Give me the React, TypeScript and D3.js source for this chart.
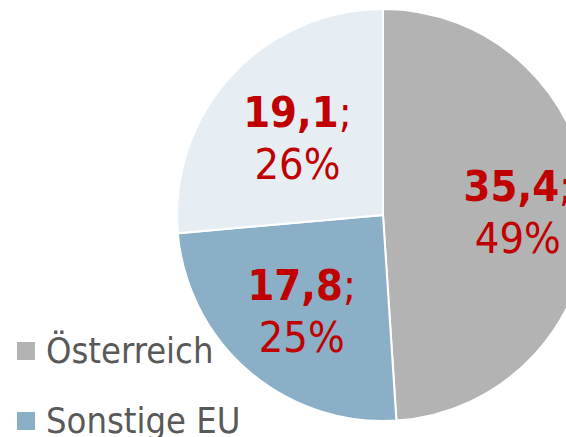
import React from "react";
import * as d3 from "d3";

const categories = ["Österreich", "Sonstige EU", "Drittstaaten"];
const values = [35.4, 17.8, 19.1];
const percents = ["49%", "25%", "26%"];
const legendItems = ["Österreich", "Sonstige EU"];

const colors = ["#b3b3b3", "#8aafc6", "#e6eef4"];
const labelFrac = [0.655, 0.607, 0.563];

const W = 566;
const H = 437;
const cx = 383;
const cy = 215;
const R = 206;
const FONT = "'DejaVu Sans Condensed', 'DejaVu Sans', sans-serif";

export default function App() {
  const pie = d3
    .pie<number>()
    .sort(null)
    .value((d) => d)
    .startAngle(0)
    .endAngle(2 * Math.PI);
  const arcs = pie(values);
  const arc = d3.arc<d3.PieArcDatum<number>>().innerRadius(0).outerRadius(R);
  const fmt = (v: number) => v.toFixed(1).replace(".", ",");

  return (
    <svg
      width={W}
      height={H}
      style={{ position: "absolute", left: 0, top: 0, background: "#fff" }}
    >
      <g transform={`translate(${cx},${cy})`}>
        {arcs.map((a, i) => (
          <path
            key={categories[i]}
            d={arc(a) || ""}
            fill={colors[i]}
            stroke="#ffffff"
            strokeWidth={2}
          />
        ))}
        {arcs.map((a, i) => {
          const mid = (a.startAngle + a.endAngle) / 2;
          const r = R * labelFrac[i];
          const x = Math.sin(mid) * r;
          const y = -Math.cos(mid) * r;
          return (
            <text
              key={"l" + i}
              x={x}
              y={y}
              textAnchor="middle"
              fill="#c00000"
              fontFamily={FONT}
              fontSize={43}
            >
              <tspan x={x} dy={-10}>
                <tspan fontWeight="bold">{fmt(values[i])}</tspan>
                <tspan>;</tspan>
              </tspan>
              <tspan x={x} dy={52}>
                {percents[i]}
              </tspan>
            </text>
          );
        })}
      </g>
      {legendItems.map((name, i) => (
        <g key={name} transform={`translate(17,${342 + i * 70})`}>
          <rect width={18} height={18} fill={colors[i]} />
          <text
            x={29}
            y={21}
            fill="#595959"
            fontFamily={FONT}
            fontSize={36}
          >
            {name}
          </text>
        </g>
      ))}
    </svg>
  );
}
